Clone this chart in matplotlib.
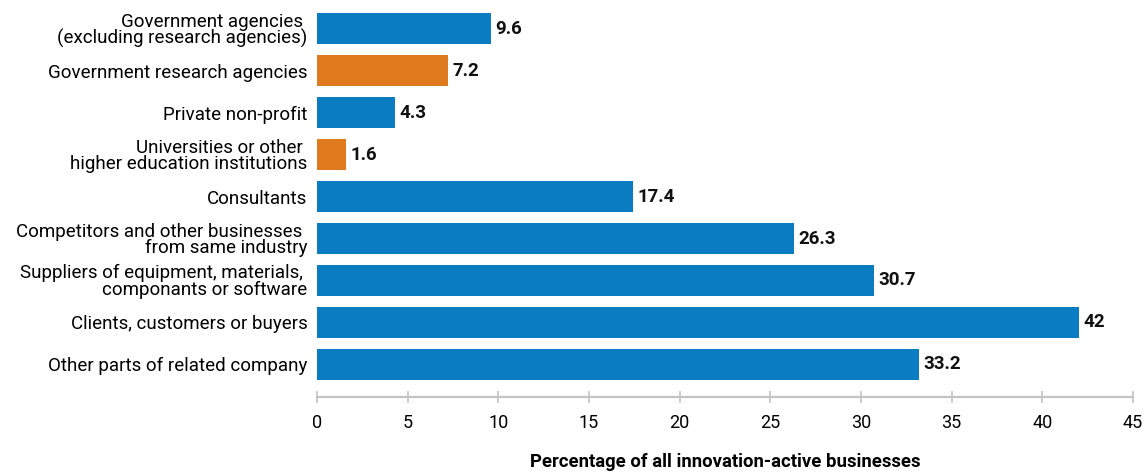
import matplotlib.pyplot as plt

plt.rcParams['font.family'] = ['Roboto', 'DejaVu Sans']

# categorie dall'alto verso il basso
categorie = [
    "Government agencies \n(excluding research agencies)",
    "Government research agencies",
    "Private non-profit",
    "Universities or other \nhigher education institutions",
    "Consultants",
    "Competitors and other businesses \nfrom same industry",
    "Suppliers of equipment, materials, \ncomponants or software",
    "Clients, customers or buyers",
    "Other parts of related company",
]
valori = [9.6, 7.2, 4.3, 1.6, 17.4, 26.3, 30.7, 42, 33.2]
etichette = ["9.6", "7.2", "4.3", "1.6", "17.4", "26.3", "30.7", "42", "33.2"]
ricerca = [False, True, False, True, False, False, False, False, False]
xticks = [0, 5, 10, 15, 20, 25, 30, 35, 40, 45]

blu = '#0a7cc2'
arancio = '#e07a1f'
colori = [arancio if r else blu for r in ricerca]

fig = plt.figure(figsize=(11.45, 4.74), dpi=100)
ax = fig.add_axes([0.2769, 0.1624, 0.7126, 0.8207])

pos = list(range(len(categorie)))
ax.barh(pos, valori, height=0.74, color=colori)

for p, v, t in zip(pos, valori, etichette):
    ax.text(v + 0.25, p, t, va='center', ha='left', fontsize=13.5,
            fontweight='bold', color='#111111')

ax.set_xlim(0, 45)
ax.set_ylim(8.78, -0.5)
ax.set_yticks(pos)
ax.set_yticklabels(categorie, fontsize=13.5, linespacing=0.9)
ax.tick_params(axis='y', length=0, pad=7)
ax.set_xticks(xticks)
ax.tick_params(axis='x', direction='inout', length=9, width=1.2,
               color='#c4c4c4', labelsize=13, pad=8)

for s in ['top', 'right', 'left']:
    ax.spines[s].set_visible(False)
ax.spines['bottom'].set_color('#c4c4c4')
ax.spines['bottom'].set_linewidth(1.6)

ax.set_xlabel('Percentage of all innovation-active businesses',
              fontsize=13.3, fontweight='bold', labelpad=15)

fig.savefig('out.png', dpi=100)
